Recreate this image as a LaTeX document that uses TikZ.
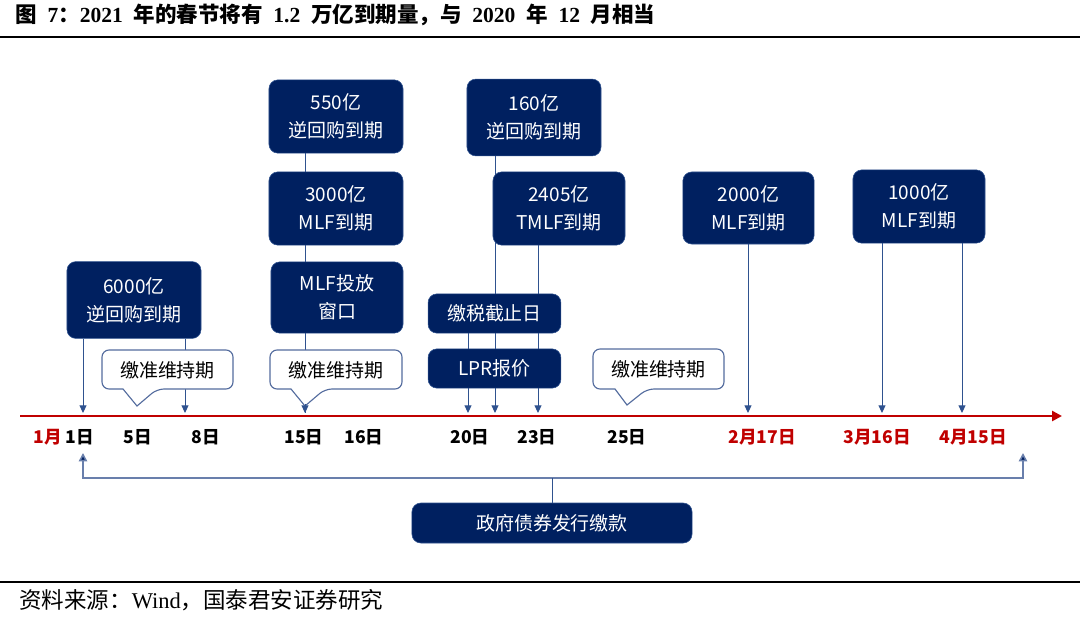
\documentclass[tikz,border=0pt]{standalone}
\usepackage{fontspec}
\setmainfont{Liberation Serif}
\newfontfamily\cjk{Noto Sans CJK SC}
\usepackage{tikz}
\usetikzlibrary{arrows.meta,backgrounds}

\definecolor{navy}{RGB}{0,32,96}
\definecolor{edgeblue}{RGB}{47,82,143}
\definecolor{callblue}{RGB}{84,108,158}
\definecolor{braceblue}{RGB}{105,127,172}
\definecolor{darkred}{RGB}{192,0,0}

\tikzset{
  navybox/.style={draw=edgeblue, fill=navy, text=white, rounded corners=0.22cm, align=center, inner sep=0pt, font=\cjk\fontsize{13.5}{20}\selectfont},
  calltext/.style={inner sep=0pt, font=\cjk\fontsize{13.5}{20}\selectfont},
  callshape/.style={draw=callblue, fill=white, line width=0.8pt},
  conn/.style={draw=edgeblue, line width=0.7pt},
  tick/.style={conn, -{Triangle[width=5pt,length=5.5pt]}},
  datelbl/.style={font=\cjk\bfseries\fontsize{12.5}{15}\selectfont, inner sep=0pt},
}

\begin{document}
\begin{tikzpicture}[x=0.025cm, y=-0.025cm]
				\useasboundingbox (0,0) rectangle (1080,619);
				\begin{scope}
					% title, rules and source
					\node[anchor=west, inner sep=0pt, font=\bfseries\fontsize{15.3}{18}\selectfont] (title) at (15,15) {{\cjk 图}\enspace 7{\cjk ：}2021\enspace{\cjk 年的春节将有}\enspace 1.2\enspace{\cjk 万亿到期量，与}\enspace 2020\enspace{\cjk 年}\enspace 12\enspace{\cjk 月相当}};
					\draw[line width=1pt] (0,37) -- (1080,37);
					\draw[line width=1pt] (0,582) -- (1080,582);
					\node[anchor=west, inner sep=0pt, font=\fontsize{16}{19}\selectfont] (source) at (19,600) {{\cjk 资料来源：}Wind{\cjk ，国泰君安证券研究}};

					% timeline
					\coordinate (tl0) at (20,416);
					\coordinate (tl1) at (1062,416);
					\draw[darkred, line width=1.8pt, -{Triangle[width=7pt,length=7pt]}] (tl0) -- (tl1);

					\coordinate (t1) at (83,413);
					\coordinate (t8) at (185,413);
					\coordinate (t15) at (305,413);
					\coordinate (t20) at (468,413);
					\coordinate (t21) at (495,413);
					\coordinate (t23) at (538,413);
					\coordinate (t217) at (748,413);
					\coordinate (t316) at (882,413);
					\coordinate (t415) at (962,413);

					\node[datelbl, text=darkred] (l1m) at (48,437) {1月};
					\node[datelbl] (l1) at (80,437) {1日};
					\node[datelbl] (l5) at (138,437) {5日};
					\node[datelbl] (l8) at (206,437) {8日};
					\node[datelbl] (l15) at (304,437) {15日};
					\node[datelbl] (l16) at (364,437) {16日};
					\node[datelbl] (l20) at (470,437) {20日};
					\node[datelbl] (l23) at (537,437) {23日};
					\node[datelbl] (l25) at (627,437) {25日};
					\node[datelbl, text=darkred] (l217) at (762,437) {2月17日};
					\node[datelbl, text=darkred] (l316) at (877,437) {3月16日};
					\node[datelbl, text=darkred] (l415) at (973,437) {4月15日};

					% dark boxes
					\node[navybox, minimum width=3.35cm, minimum height=1.92cm] (b6000) at (134,300) {6000亿\\逆回购到期};
					\node[navybox, minimum width=3.35cm, minimum height=1.83cm] (b550) at (336,116.5) {550亿\\逆回购到期};
					\node[navybox, minimum width=3.35cm, minimum height=1.83cm] (b3000) at (336,208.5) {3000亿\\MLF到期};
					\node[navybox, minimum width=3.3cm, minimum height=1.78cm] (bwin) at (337,297.5) {MLF投放\\窗口};
					\node[navybox, minimum width=3.35cm, minimum height=1.92cm] (b160) at (534,117.5) {160亿\\逆回购到期};
					\node[navybox, minimum width=3.3cm, minimum height=1.83cm] (b2405) at (559,208.5) {2405亿\\TMLF到期};
					\node[navybox, minimum width=3.32cm, minimum height=0.98cm] (btax) at (494.5,313.5) {缴税截止日};
					\node[navybox, minimum width=3.32cm, minimum height=0.98cm] (blpr) at (494.5,368.5) {LPR报价};
					\node[navybox, minimum width=3.28cm, minimum height=1.8cm] (b2000) at (748.5,208) {2000亿\\MLF到期};
					\node[navybox, minimum width=3.3cm, minimum height=1.83cm] (b1000) at (919,206.5) {1000亿\\MLF到期};
					\node[navybox, minimum width=7cm, minimum height=1cm] (gov) at (552,523) {政府债券发行缴款};

					% callouts
					\draw[callshape, rounded corners=5pt] (102,350) -- (233,350) -- (233,389) -- (157,389) [sharp corners] -- (137,406) -- (123,389) [rounded corners=5pt] -- (102,389) -- cycle;
					\node[calltext] (wk1) at (167.5,370) {缴准维持期};
					\draw[callshape, rounded corners=5pt] (270,350) -- (402,350) -- (402,389) -- (325,389) [sharp corners] -- (305,406) -- (291,389) [rounded corners=5pt] -- (270,389) -- cycle;
					\node[calltext] (wk2) at (336,370) {缴准维持期};
					\draw[callshape, rounded corners=5pt] (593,349) -- (724,349) -- (724,389) -- (647,389) [sharp corners] -- (627,405) -- (615,389) [rounded corners=5pt] -- (593,389) -- cycle;
					\node[calltext] (wk3) at (658.5,369.5) {缴准维持期};
					\coordinate (c2tip) at (305,404);
					\draw[tick] (c2tip) -- (t15); % tip of second callout

					% connectors behind the boxes
					\begin{scope}[on background layer]
						\draw[tick] (b6000.south -| t1) -- (t1);
						\draw[tick] (b6000.south -| t8) -- (t8);
						\draw[conn] (b550.south -| t15) -- (t15);
						\draw[tick] (btax.south -| t20) -- (t20);
						\draw[tick] (b160.south -| t21) -- (t21);
						\draw[tick] (b2405.south -| t23) -- (t23);
						\draw[tick] (b2000.south -| t217) -- (t217);
						\draw[tick] (b1000.south -| t316) -- (t316);
						\draw[tick] (b1000.south -| t415) -- (t415);
					\end{scope}

					% bracket to the bond box
					\coordinate (ul) at (83,453);
					\coordinate (bl) at (83,478);
					\coordinate (br) at (1023,478);
					\coordinate (ur) at (1023,453);
					\draw[draw=braceblue, line width=1.1pt, {Triangle[width=6pt,length=6pt,fill=navy]}-{Triangle[width=6pt,length=6pt,fill=navy]}] (ul) -- (bl) -- (br) -- (ur);
					\draw[conn] (gov.north) -- (gov.north |- bl);
				\end{scope}
			\end{tikzpicture}
\end{document}
